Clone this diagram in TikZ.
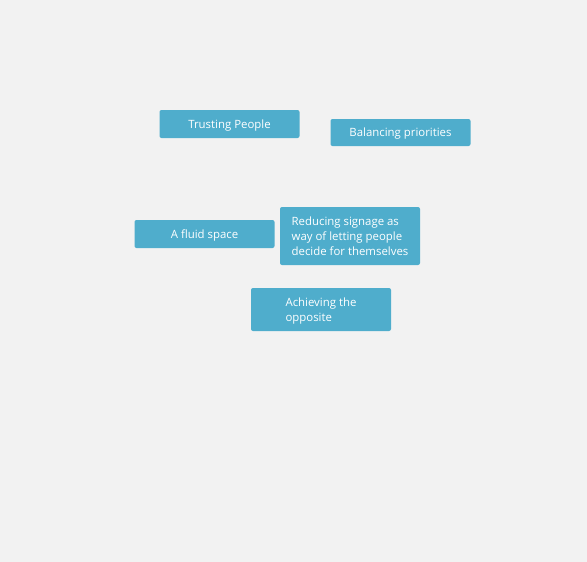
\documentclass[tikz,border=0pt]{standalone}
\usepackage{fontspec}
\setmainfont{Open Sans}
\definecolor{notebg}{HTML}{F2F2F2}
\definecolor{noteblue}{HTML}{4FADCC}
\begin{document}
\begin{tikzpicture}[x=1pt,y=-1pt,
    note/.style = {fill=noteblue, rounded corners=2pt, text=white, font=\fontsize{11.4}{15}\selectfont,
                   minimum width=140pt, inner sep=0pt, align=left, text depth=0pt}]
    % Fondo
    \fill[notebg] (0,0) rectangle (587,562);
    \useasboundingbox (0,0) rectangle (587,562);

    % Fila 1
    \node[note, minimum height=28pt] (trust) at (229.5,124) {Trusting People};
    \node[note, minimum height=27pt] (balance) at (400.5,132.5) {Balancing priorities};

    % Fila 2
    \node[note, minimum height=28pt] (fluid) at (204.5,234) {A fluid space};
    \node[note, minimum height=58pt] (signage) at (350,236) {Reducing signage as\\way of letting people\\decide for themselves};

    % Fila 3
    \node[note, minimum height=43pt] (opposite) at (321,309.5) {Achieving the\\opposite};
\end{tikzpicture}
\end{document}
